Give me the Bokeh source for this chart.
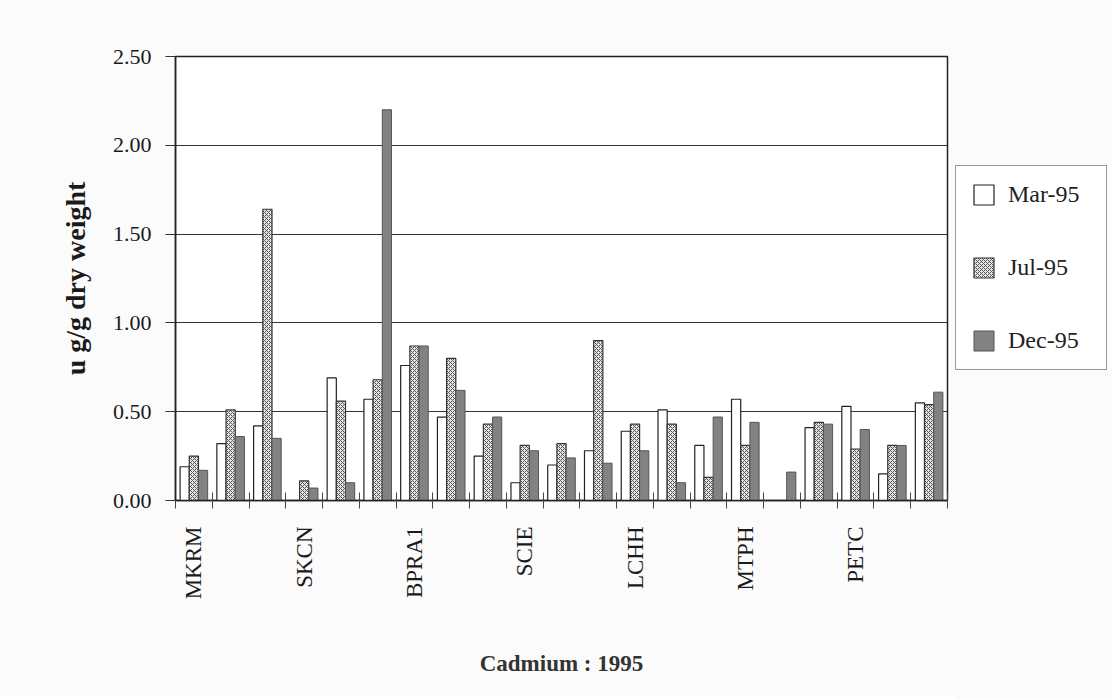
import numpy as np
from bokeh.plotting import figure
from bokeh.layouts import row
from bokeh.models import (ColumnDataSource, FixedTicker, Legend, LegendItem,
                          NumeralTickFormatter, Range1d)
from bokeh.transform import dodge
from bokeh.embed import file_html
from bokeh.resources import INLINE

# ---- data ----
sites = ["MKRM", "", "", "SKCN", "", "", "BPRA1", "", "", "SCIE", "", "",
         "LCHH", "", "", "MTPH", "", "", "PETC", "", ""]
mar95 = [0.19, 0.32, 0.42, 0.00, 0.69, 0.57, 0.76, 0.47, 0.25, 0.10, 0.20,
         0.28, 0.39, 0.51, 0.31, 0.57, 0.00, 0.41, 0.53, 0.15, 0.55]
jul95 = [0.25, 0.51, 1.64, 0.11, 0.56, 0.68, 0.87, 0.80, 0.43, 0.31, 0.32,
         0.90, 0.43, 0.43, 0.13, 0.31, 0.00, 0.44, 0.29, 0.31, 0.54]
dec95 = [0.17, 0.36, 0.35, 0.07, 0.10, 2.20, 0.87, 0.62, 0.47, 0.28, 0.24,
         0.21, 0.28, 0.10, 0.47, 0.44, 0.16, 0.43, 0.40, 0.31, 0.61]
series_names = ["Mar-95", "Jul-95", "Dec-95"]
y_ticks = [0.0, 0.5, 1.0, 1.5, 2.0, 2.5]

n = len(sites)
src = ColumnDataSource(dict(x=np.arange(n) + 0.5, mar=mar95, jul=jul95, dec=dec95))

FONT = "Liberation Serif"
TXT = "#1a1a1a"
BG = "#fbfbfb"

STYLES = [
    dict(fill_color="white", line_color="#222222", line_width=1.2),
    dict(fill_color="#e6e6e6", line_color="#333333", line_width=1.2,
         hatch_pattern="x", hatch_scale=4, hatch_weight=1, hatch_color="#555555"),
    dict(fill_color="#828282", line_color="#555555", line_width=1),
]

p = figure(frame_width=772, frame_height=444, output_backend="svg", toolbar_location=None,
           x_range=Range1d(0, n), y_range=Range1d(0, 2.5),
           min_border_left=175, min_border_right=8, min_border_top=56,
           min_border_bottom=196, background_fill_color="white",
           border_fill_color=BG)

p.outline_line_color = "#222222"
p.outline_line_width = 1.5

w = 0.25
r1 = p.vbar(x=dodge("x", -0.25), top="mar", width=w, source=src, **STYLES[0])
r2 = p.vbar(x=dodge("x", 0.0), top="jul", width=w, source=src, **STYLES[1])
r3 = p.vbar(x=dodge("x", 0.25), top="dec", width=w, source=src, **STYLES[2])

# x axis: labels at every third group centre, boundary ticks as minor ticks
label_pos = [i + 0.5 for i, s in enumerate(sites) if s]
p.xaxis.ticker = FixedTicker(ticks=label_pos, minor_ticks=list(range(n + 1)))
p.xaxis.major_label_overrides = {i + 0.5: s for i, s in enumerate(sites) if s}
p.xaxis.major_label_orientation = np.pi / 2
p.xaxis.major_tick_line_color = None
p.xaxis.major_tick_in = 0
p.xaxis.major_tick_out = 0
p.xaxis.minor_tick_in = 8
p.xaxis.minor_tick_out = 8
p.xaxis.minor_tick_line_color = "#444444"
p.xaxis.axis_line_color = "#222222"
p.xaxis.axis_line_width = 1.5
p.xaxis.major_label_text_font = FONT
p.xaxis.major_label_text_font_size = "23px"
p.xaxis.major_label_text_color = TXT
p.xaxis.major_label_standoff = 18
p.xaxis.axis_label = "Cadmium : 1995"
p.xaxis.axis_label_text_font = FONT
p.xaxis.axis_label_text_font_size = "23px"
p.xaxis.axis_label_text_font_style = "bold"
p.xaxis.axis_label_text_color = "#333333"
p.xaxis.axis_label_standoff = 49

# y axis
p.yaxis.ticker = FixedTicker(ticks=y_ticks)
p.yaxis.formatter = NumeralTickFormatter(format="0.00")
p.yaxis.minor_tick_line_color = None
p.yaxis.major_tick_in = 0
p.yaxis.major_tick_out = 10
p.yaxis.major_tick_line_color = "#333333"
p.yaxis.axis_line_color = "#222222"
p.yaxis.axis_line_width = 1.5
p.yaxis.major_label_text_font = FONT
p.yaxis.major_label_text_font_size = "22px"
p.yaxis.major_label_text_color = TXT
p.yaxis.major_label_standoff = 14
p.yaxis.axis_label = "u g/g dry weight"
p.yaxis.axis_label_text_font = FONT
p.yaxis.axis_label_text_font_size = "28px"
p.yaxis.axis_label_text_font_style = "bold"
p.yaxis.axis_label_text_color = TXT
p.yaxis.axis_label_standoff = 19

p.xgrid.grid_line_color = None
p.ygrid.grid_line_color = "#333333"
p.ygrid.grid_line_width = 1.2

# legend panel: a second small figure to the right of the chart
q = figure(width=157, height=699, output_backend="svg", toolbar_location=None,
           x_range=Range1d(0, 1), y_range=Range1d(0, 1),
           min_border_left=0, min_border_right=0, min_border_bottom=196,
           min_border_top=56, background_fill_color=BG, border_fill_color=BG)
q.axis.visible = False
q.grid.visible = False
q.outline_line_color = None
# legend-only renderers: a tiny bar hidden behind the legend box
lr = [q.vbar(x=[0.5], bottom=[0.5], top=[0.55], width=0.05, **s) for s in STYLES]

legend = Legend(items=[LegendItem(label=nm, renderers=[r]) for nm, r in zip(series_names, lr)],
                location=(0, 133), orientation="vertical",
                glyph_width=25, glyph_height=25, spacing=46, padding=15,
                label_standoff=12, label_width=83, margin=0,
                label_text_font=FONT, label_text_font_size="24px",
                label_text_color="#222222",
                border_line_color="#333333", border_line_width=1.2,
                background_fill_color="white", background_fill_alpha=1)
q.add_layout(legend)

layout = row(p, q, spacing=0)
open("out.html", "w").write(file_html(layout, INLINE))
